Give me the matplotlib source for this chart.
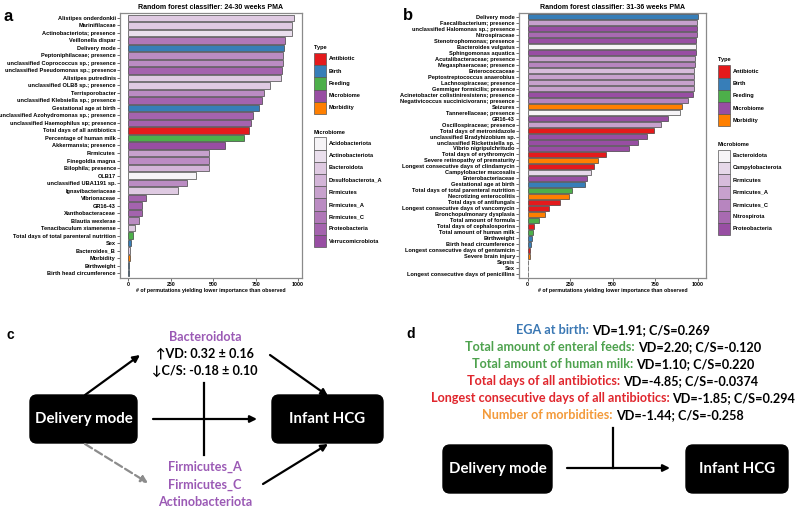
import numpy as np
import matplotlib
matplotlib.use("Agg")
import matplotlib.pyplot as plt
from matplotlib.patches import FancyBboxPatch, Rectangle
from matplotlib.colors import to_rgb

plt.rcParams["font.family"] = ["Liberation Sans", "DejaVu Sans"]

W, H = 800, 507

type_names = ["Antibiotic", "Birth", "Feeding", "Microbiome", "Morbidity"]
type_colors = ["#e41a1c", "#377eb8", "#4daf4a", "#984ea3", "#ff7f00"]

# ---- panel a: 24-30 weeks PMA ----
a_features = ["Alistipes onderdonkii", "Marinifilaceae", "Actinobacteriota; presence",
              "Veillonella dispar", "Delivery mode", "Peptoniphilaceae; presence",
              "unclassified Coprococcus sp.; presence", "unclassified Pseudomonas sp.; presence",
              "Alistipes putredinis", "unclassified OLB8 sp.; presence", "Terrisporobacter",
              "unclassified Klebsiella sp.; presence", "Gestational age at birth",
              "unclassified Azohydromonas sp.; presence", "unclassified Haemophilus sp; presence",
              "Total days of all antibiotics", "Percentage of human milk", "Akkermansia; presence",
              "Firmicutes", "Finegoldia magna", "Bilophila; presence", "OLB17",
              "unclassified UBA1191 sp.", "Ignavibacteriaceae", "Vibrionaceae", "GR16-43",
              "Xanthobacteraceae", "Blautia wexlerae", "Tenacibaculum xiamenense",
              "Total days of total parenteral nutrition", "Sex", "Bacteroides_B", "Morbidity",
              "Birthweight", "Birth head circumference"]
a_counts = [974, 964, 962, 922, 918, 912, 910, 908, 900, 834, 802, 787, 767, 734, 722,
            711, 683, 570, 476, 473, 474, 396, 344, 295, 102, 78, 78, 60, 40, 28, 18,
            12, 8, 3, 2]
a_groups = ["Bacteroidota", "Bacteroidota", "Actinobacteriota", "Firmicutes_C", "Birth",
            "Firmicutes_A", "Firmicutes_A", "Proteobacteria", "Bacteroidota", "Bacteroidota",
            "Firmicutes_A", "Proteobacteria", "Birth", "Proteobacteria", "Proteobacteria",
            "Antibiotic", "Feeding", "Verrucomicrobiota", "Firmicutes", "Firmicutes_A",
            "Desulfobacterota_A", "Acidobacteriota", "Firmicutes_A", "Bacteroidota",
            "Proteobacteria", "Proteobacteria", "Proteobacteria", "Firmicutes_A",
            "Bacteroidota", "Feeding", "Birth", "Bacteroidota", "Morbidity", "Birth", "Birth"]
a_phyla = ["Acidobacteriota", "Actinobacteriota", "Bacteroidota", "Desulfobacterota_A",
           "Firmicutes", "Firmicutes_A", "Firmicutes_C", "Proteobacteria", "Verrucomicrobiota"]

# ---- panel b: 31-36 weeks PMA ----
b_features = ["Delivery mode", "Faecalibacterium; presence", "unclassified Halomonas sp.; presence",
              "Nitrospiraceae", "Stenotrophomonas; presence", "Bacteroides vulgatus",
              "Sphingomonas aquatica", "Acutalibacteraceae; presence", "Megasphaeraceae; presence",
              "Enterococcaceae", "Peptostreptococcus anaerobius", "Lachnospiraceae; presence",
              "Gemmiger formicilis; presence", "Acinetobacter colistiniresistens; presence",
              "Negativicoccus succinicivorans; presence", "Seizures", "Tannerellaceae; presence",
              "GR16-43", "Oscillospiraceae; presence", "Total days of metronidazole",
              "unclassified Bradyhizobium sp.", "unclassified Rickettsiella sp.",
              "Vibrio nigripulchritudo", "Total days of erythromycin",
              "Severe retinopathy of prematurity", "Longest consecutive days of clindamycin",
              "Campylobacter mucosalis", "Enterobacteriaceae", "Gestational age at birth",
              "Total days of total parenteral nutrition", "Necrotizing enterocolitis",
              "Total days of antifungals", "Longest consecutive days of vancomycin",
              "Bronchopulmonary dysplasia", "Total amount of formula",
              "Total days of cephalosporins", "Total amount of human milk", "Birthweight",
              "Birth head circumference", "Longest consecutive days of gentamicin",
              "Severe brain injury", "Sepsis", "Sex", "Longest consecutive days of penicillins"]
b_counts = [1000, 997, 996, 996, 993, 992, 990, 986, 985, 981, 980, 979, 978, 973, 942,
            908, 899, 824, 785, 744, 701, 650, 599, 462, 413, 393, 371, 350, 337, 263,
            247, 193, 127, 104, 69, 40, 31, 28, 23, 15, 14, 5, 3, 2]
b_groups = ["Birth", "Firmicutes_A", "Proteobacteria", "Nitrospirota", "Proteobacteria",
            "Bacteroidota", "Proteobacteria", "Firmicutes_A", "Firmicutes_C", "Firmicutes",
            "Firmicutes_A", "Firmicutes_A", "Firmicutes_A", "Proteobacteria", "Firmicutes_C",
            "Morbidity", "Bacteroidota", "Proteobacteria", "Firmicutes_A", "Antibiotic",
            "Proteobacteria", "Proteobacteria", "Proteobacteria", "Antibiotic", "Morbidity",
            "Antibiotic", "Campylobacterota", "Proteobacteria", "Birth", "Feeding",
            "Morbidity", "Antibiotic", "Antibiotic", "Morbidity", "Feeding", "Antibiotic",
            "Feeding", "Birth", "Birth", "Antibiotic", "Morbidity", "Morbidity", "Birth",
            "Antibiotic"]
b_phyla = ["Bacteroidota", "Campylobacterota", "Firmicutes", "Firmicutes_A", "Firmicutes_C",
           "Nitrospirota", "Proteobacteria"]

# ---- panel c / d text ----
c_top = ["Bacteroidota", "\u2191VD: 0.32 \u00b1 0.16", "\u2193C/S: -0.18 \u00b1 0.10"]
c_bottom = ["Firmicutes_A", "Firmicutes_C", "Actinobacteriota"]
d_names = ["EGA at birth:", "Total amount of enteral feeds:", "Total amount of human milk:",
           "Total days of all antibiotics:", "Longest consecutive days of all antibiotics:",
           "Number of morbidities:"]
d_stats = ["VD=1.91; C/S=0.269", "VD=2.20; C/S=-0.120", "VD=1.10; C/S=0.220",
           "VD=-4.85; C/S=-0.0374", "VD=-1.85; C/S=0.294", "VD=-1.44; C/S=-0.258"]
d_colors = ["#3b78b4", "#4ea24e", "#4ea24e", "#e0262d", "#e0262d", "#f39a3a"]


def ramp(n):
    lo = np.array([0.965, 0.955, 0.97])
    hi = np.array(to_rgb("#984ea3"))
    return [tuple(lo + (hi - lo) * t) for t in np.linspace(0, 1, n)]


def bar_panel(ax, feats, counts, groups, phyla, xlim, title):
    pal = dict(zip(type_names, type_colors))
    pal.update(dict(zip(phyla, ramp(len(phyla)))))
    y = np.arange(len(feats))
    ax.barh(y, counts, height=0.85, color=[pal[g] for g in groups],
            edgecolor="#333333", linewidth=0.45)
    ax.set_ylim(len(feats) - 0.4, -0.6)
    ax.set_yticks(y)
    ax.set_yticklabels(feats, fontsize=4.1, fontweight="bold")
    ax.set_xlim(*xlim)
    ax.set_xticks([0, 250, 500, 750, 1000])
    ax.set_xticklabels(["0", "250", "500", "750", "1000"], fontsize=3.8, fontweight="bold")
    ax.set_xlabel("# of permutations yielding lower importance than observed",
                  fontsize=3.8, fontweight="bold", labelpad=1)
    ax.set_title(title, fontsize=5, fontweight="bold", pad=3)
    ax.tick_params(length=2, width=0.5, pad=1, color="#333333")
    for s in ax.spines.values():
        s.set_color("#8a8a8a")
        s.set_linewidth(0.9)
    return pal


def legend_block(ov, x, y_title, names, cols, step=12.2):
    ov.text(x, y_title, names[0], fontsize=4.1, fontweight="bold", va="center")
    for i, (n, c) in enumerate(zip(names[1], cols)):
        yc = y_title + 11.5 + i * step
        ov.add_patch(Rectangle((x, yc - step / 2), 11.5, step, facecolor=c,
                               edgecolor="#555555", linewidth=0.5))
        ov.text(x + 15, yc, n, fontsize=4.1, fontweight="bold", va="center")


fig = plt.figure(figsize=(W / 100, H / 100), dpi=100)

ax_a = fig.add_axes([120 / W, 1 - 277.7 / H, 182 / W, 264.4 / H])
ax_b = fig.add_axes([519 / W, 1 - 277.7 / H, 187 / W, 264.4 / H])
bar_panel(ax_a, a_features, a_counts, a_groups, a_phyla, (-49, 1023),
          "Random forest classifier: 24-30 weeks PMA")
bar_panel(ax_b, b_features, b_counts, b_groups, b_phyla, (-50, 1050),
          "Random forest classifier: 31-36 weeks PMA")

ov = fig.add_axes([0, 0, 1, 1])
ov.set_xlim(0, W)
ov.set_ylim(H, 0)
ov.axis("off")

legend_block(ov, 314, 47.5, ("Type", type_names), type_colors)
legend_block(ov, 314, 132, ("Microbiome", a_phyla), ramp(len(a_phyla)))
legend_block(ov, 718, 60, ("Type", type_names), type_colors)
legend_block(ov, 718, 144.3, ("Microbiome", b_phyla), ramp(len(b_phyla)))

for lab, (x, y), fs in [("a", (8.5, 16.5), 12), ("b", (407.5, 16), 12),
                        ("c", (10, 335), 10), ("d", (411, 333.5), 10)]:
    ov.text(x, y, lab, fontsize=fs, fontweight="bold", ha="center", va="center")

font2 = ["Lato", "DejaVu Sans"]
purple = "#9b5ab5"
fs2 = 9.1


def box(x, y, w, h, label):
    ov.add_patch(FancyBboxPatch((x, y), w, h, boxstyle="round,pad=0,rounding_size=7",
                                facecolor="black", edgecolor="black"))
    ov.text(x + w / 2, y + h / 2, label, color="white", fontsize=10.8, fontweight="bold",
            family=font2, ha="center", va="center")


def arrow(p0, p1, color="black", ls="-"):
    ov.annotate("", xy=p1, xytext=p0,
                arrowprops=dict(arrowstyle="-|>", color=color, lw=1.6, linestyle=ls,
                                mutation_scale=10, shrinkA=0, shrinkB=0))


# panel c
box(30, 395, 107, 48, "Delivery mode")
box(272, 395, 111, 48, "Infant HCG")
for i, t in enumerate(c_top):
    ov.text(205, 337 + i * 17, t, color=purple if i == 0 else "black", fontsize=fs2,
            fontweight="bold", family=font2, ha="center", va="center")
for i, t in enumerate(c_bottom):
    ov.text(205, 467 + i * 17.5, t, color=purple, fontsize=fs2, fontweight="bold",
            family=font2, ha="center", va="center")
arrow((85, 395), (140, 355))
arrow((270, 355), (328, 396))
arrow((153, 419), (257, 419))
ov.plot([204, 204], [383, 455], color="black", lw=1.6)
arrow((85, 444), (148, 483), color="#8c8c8c", ls="--")
arrow((263, 484), (328, 444))

# panel d
r = fig.canvas.get_renderer()
for i, (nm, st, col) in enumerate(zip(d_names, d_stats, d_colors)):
    yy = 330 + i * 17
    t1 = ov.text(0, yy, nm, color=col, fontsize=fs2, fontweight="bold", family=font2,
                 va="center")
    t2 = ov.text(0, yy, st, color="black", fontsize=fs2, fontweight="bold", family=font2,
                 va="center")
    w1 = t1.get_window_extent(r).width
    w2 = t2.get_window_extent(r).width
    x0 = 613 - (w1 + w2 + 3) / 2
    t1.set_x(x0)
    t2.set_x(x0 + w1 + 3)

box(443, 445, 109, 48, "Delivery mode")
box(686, 445, 102, 48, "Infant HCG")
ov.plot([613, 613], [428, 468], color="black", lw=1.6)
arrow((567, 468), (670, 468))

fig.savefig("out.png", dpi=100)
